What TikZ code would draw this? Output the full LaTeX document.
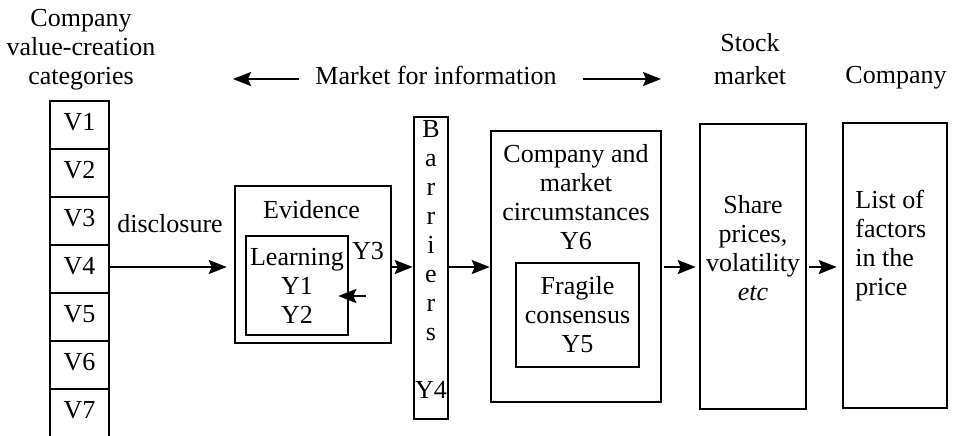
\documentclass[tikz,border=0pt]{standalone}
\usepackage{fontspec}
\setmainfont{Liberation Serif}
\usetikzlibrary{arrows.meta}
\begin{document}
\begin{tikzpicture}[x=.5pt, y=-.5pt, font=\fontsize{13}{14.5}\selectfont,
  box/.style={draw, line width=1.3pt, inner sep=0pt},
  txt/.style={inner sep=0pt, align=center, anchor=north},
  arr/.style={-{Stealth[length=9pt,width=7pt,inset=1.5pt]}, line width=1pt}]
\clip (0,0) rectangle (957,435);
\node[txt] (cat) at (81,8.5) {Company\\value-creation\\categories};
\foreach \i in {1,...,7}{
\node[box, minimum width=29.5pt, minimum height=24pt, text height=8.8pt, text depth=3.8pt] (v\i) at (79.5,{125+48*(\i-1)}) {V\i};
}
\node[txt] (mkt) at (436,65.3) {Market for information};
\node[txt] (stk) at (750,33.3) {Stock\\[2pt]market};
\node[txt] (cmp) at (896,65.5) {Company};
\node[txt] (disc) at (170,214.5) {disclosure};
\node[box, minimum width=78pt, minimum height=78.5pt] (ev) at (313,264.5) {};
\node[txt] (evt) at (311.5,200.5) {Evidence};
\node[box, minimum width=51pt, minimum height=49.5pt, align=center] (learn) at (297,285.5) {Learning\\Y1\\Y2};
\node[txt] (y3) at (368,241.8) {Y3};
\node[box, minimum width=17pt, minimum height=151pt] (bar) at (431,268) {};
\node[txt] (bart) at (431,120.5) {B\\a\\r\\r\\i\\e\\r\\s\\[14.5pt]Y4};
\node[box, minimum width=85pt, minimum height=135.5pt] (cm) at (576,266.5) {};
\node[txt] (cmt) at (576,144.5) {Company and\\market\\circumstances\\Y6};
\node[box, minimum width=61.5pt, minimum height=52pt, align=center] (frag) at (577.5,315) {Fragile\\consensus\\Y5};
\node[box, minimum width=53pt, minimum height=142.5pt] (share) at (753,266.5) {};
\node[txt] (sht) at (753,195.5) {Share\\prices,\\volatility\\\textit{etc}};
\node[box, minimum width=52pt, minimum height=142.5pt] (list) at (895,265.5) {};
\node[txt, align=left, anchor=north west] (lst) at (855,189.5) {List of\\factors\\in the\\price};
\coordinate (row) at (0,267);
\coordinate (mkl) at (233,79);
\coordinate (mkr) at (661,79);
\coordinate (fb) at (366,296);
\draw[arr, shorten >=3.5pt] (v4.east |- row) -- (ev.west |- row);
\draw[arr] (ev.east |- row) -- (bar.west |- row);
\draw[arr] (bar.east |- row) -- (cm.west |- row);
\draw[arr, shorten <=1pt, shorten >=1.5pt] (cm.east |- row) -- (share.west |- row);
\draw[arr, shorten <=1pt, shorten >=2.5pt] (share.east |- row) -- (list.west |- row);
\draw[arr] (fb) -- ([xshift=-5.5pt]learn.east |- fb);
\draw[arr, shorten <=8pt] (mkt.west |- mkl) -- (mkl);
\draw[arr, shorten <=13pt] (mkt.east |- mkr) -- (mkr);
\end{tikzpicture}
\end{document}
